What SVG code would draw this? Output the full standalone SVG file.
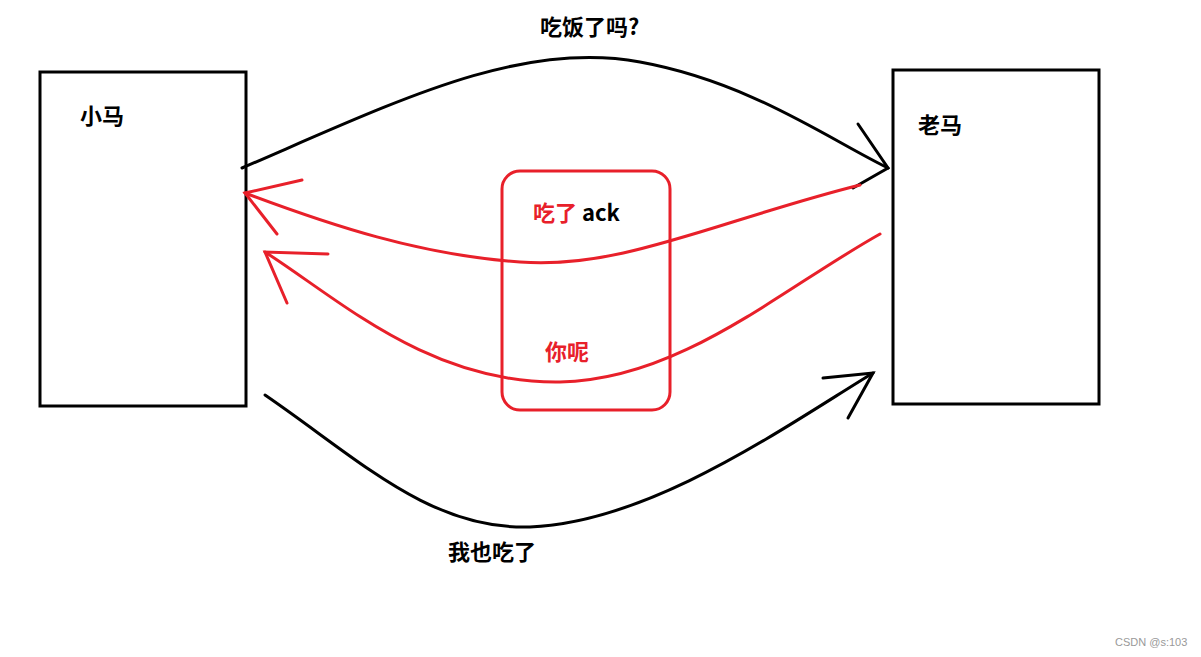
<svg xmlns="http://www.w3.org/2000/svg" width="1201" height="657" viewBox="0 0 1201 657">
<style>
.box{fill:none;stroke:#000;stroke-width:3}
.k{fill:none;stroke:#000;stroke-width:3;stroke-linecap:round}
.r{fill:none;stroke:#e8202a;stroke-width:3;stroke-linecap:round}
text{font-family:"Noto Sans CJK SC","Liberation Sans",sans-serif;font-weight:bold;font-size:22px}
</style>
<rect width="1201" height="657" fill="#fff"/>
<g id="xiaoma"><rect class="box" x="40" y="72" width="206" height="334"/><text x="80" y="124">小马</text></g>
<g id="laoma"><rect class="box" x="893" y="70" width="206" height="334"/><text x="918" y="133">老马</text></g>
<g id="ackbox"><rect class="r" x="502" y="171" width="168" height="239" rx="18"/>
<text x="533" y="221"><tspan fill="#e8202a">吃了</tspan> ack</text>
<text x="545" y="360" fill="#e8202a">你呢</text></g>
<g id="connectors">
<path class="k" d="M242,168 C400,100 520,40 640,62 C750,82 830,140 888,168"/>
<path class="k" d="M858,124 L888,168 L853,188"/>
<path class="r" d="M860,185 C720,220 620,270 520,262 C420,255 330,225 245,193"/>
<path class="r" d="M302,180 L245,193 L277,234"/>
<path class="r" d="M880,234 C780,290 680,380 560,382 C430,384 340,300 265,252"/>
<path class="r" d="M328,254 L265,252 L287,303"/>
<path class="k" d="M265,395 C360,460 430,530 530,527 C650,522 780,430 873,373"/>
<path class="k" d="M823,378 L873,373 L848,418"/>
<text x="540" y="35">吃饭了吗?</text>
<text x="448" y="560">我也吃了</text>
</g>
<text x="1115" y="646" style="font-family:'Liberation Sans',sans-serif;font-weight:normal;font-size:11px;fill:#999">CSDN @s:103</text>
</svg>
